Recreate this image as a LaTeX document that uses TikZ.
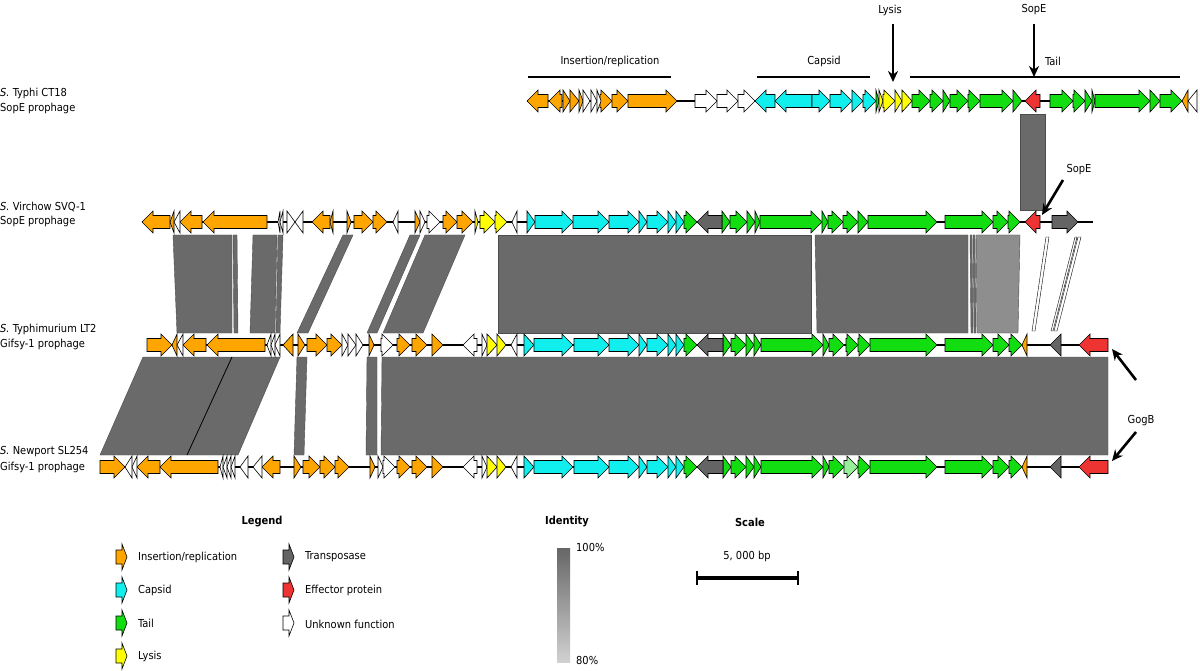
\documentclass[tikz,border=0pt]{standalone}
\usepackage{fontspec}
\setmainfont{DejaVu Sans Condensed}
\usetikzlibrary{arrows.meta}
\definecolor{orng}{HTML}{FFA500}
\definecolor{cyn}{HTML}{11EEEE}
\definecolor{grn}{HTML}{11DD11}
\definecolor{lgrn}{HTML}{99EE99}
\definecolor{ylw}{HTML}{FFFF00}
\definecolor{rd}{HTML}{EE3333}
\definecolor{tgr}{HTML}{646464}
\definecolor{shd}{HTML}{6A6A6A}
\definecolor{lshd}{HTML}{8E8E8E}
\definecolor{wht}{HTML}{FFFFFF}
\tikzset{
  genestyle/.style={draw=black,line width=0.6pt,line join=miter},
  backbone/.style={line width=2pt,black},
  blockstyle/.style={fill=shd,draw=black!70,line width=0.4pt},
  lblock/.style={fill=lshd,draw=black!70,line width=0.4pt},
  annarrow/.style={line width=2.6pt,-{Stealth[length=11pt,width=10pt]}},
  brk/.style={line width=1.2pt},
  lbl/.style={font=\fontsize{11}{13}\selectfont,inner sep=0pt},
  hdr/.style={font=\fontsize{11}{13}\selectfont\bfseries,inner sep=0pt},
}
\newcommand\gene[4]{%
  \pgfmathsetmacro\gA{#1}\pgfmathsetmacro\gB{#2}%
  \pgfmathsetmacro\gS{(#2>#1)?1:-1}%
  \pgfmathsetmacro\gH{min(11,abs(#2-#1))}%
  \pgfmathsetmacro\gC{#2-\gS*\gH}%
  \draw[genestyle,fill=#4] (\gA,#3-6.5) -- (\gC,#3-6.5) -- (\gC,#3-11) -- (\gB,#3) -- (\gC,#3+11) -- (\gC,#3+6.5) -- (\gA,#3+6.5) -- cycle;}
\newcommand\legicon[3]{%
  \draw[genestyle,fill=#3] (#1,#2-7) -- (#1+6,#2-7) -- (#1+6,#2-13) -- (#1+11,#2) -- (#1+6,#2+13) -- (#1+6,#2+7) -- (#1,#2+7) -- cycle;}
\begin{document}
\begin{tikzpicture}[x=1pt,y=-1pt]
\useasboundingbox (0,0) rectangle (1200,671);

% ---------- comparison blocks ----------
\fill[fill=shd,draw=black!70,line width=0.4pt] (1020,114) rectangle (1045,210);
% track 2 -> 3
\draw[blockstyle] (173,235) -- (232,235) -- (232,333) -- (177,333) -- cycle;
\draw[blockstyle] (233,235) -- (237,235) -- (238,333) -- (234,333) -- cycle;
\draw[blockstyle] (253,235) -- (277,235) -- (275,333) -- (250,333) -- cycle;
\draw[blockstyle] (278,235) -- (283,235) -- (280,333) -- (276,333) -- cycle;
\draw[blockstyle] (343,235) -- (353,235) -- (308,333) -- (297,333) -- cycle;
\draw[blockstyle] (410,235) -- (420,235) -- (377,333) -- (367,333) -- cycle;
\draw[blockstyle] (425,235) -- (465,235) -- (423,333) -- (383,333) -- cycle;
\draw[blockstyle] (498,235) -- (811,235) -- (811,333) -- (498,333) -- cycle;
\draw[blockstyle] (815,235) -- (968,235) -- (968,333) -- (817,333) -- cycle;
\draw[blockstyle] (970,235) -- (972,235) -- (973,333) -- (971,333) -- cycle;
\draw[blockstyle] (973,235) -- (975,235) -- (976,333) -- (974,333) -- cycle;
\draw[lblock] (976,235) -- (1020,235) -- (1018,333) -- (977,333) -- cycle;
\draw[fill=white,draw=black,line width=0.4pt] (1046,237) -- (1049,237) -- (1035,331) -- (1032,331) -- cycle;
\draw[fill=white,draw=black,line width=0.4pt] (1078,237) -- (1081,237) -- (1057,331) -- (1054,331) -- cycle;
\draw[fill=white,draw=black,line width=0.4pt] (1075,237) -- (1077,237) -- (1053,331) -- (1051,331) -- cycle;
% track 3 -> 4
\draw[blockstyle] (143,357) -- (280,357) -- (238,455) -- (100,455) -- cycle;
\draw[black,line width=0.8pt] (232,357) -- (187,455);
\draw[blockstyle] (297,357) -- (307,357) -- (304,455) -- (294,455) -- cycle;
\draw[blockstyle] (367,357) -- (377,357) -- (377,455) -- (366,455) -- cycle;
\draw[blockstyle] (382,357) -- (1108,357) -- (1108,455) -- (381,455) -- cycle;

% ---------- backbones ----------
\draw[backbone] (527,101) -- (1197,101);
\draw[backbone] (142,222) -- (1093,222);
\draw[backbone] (147,345) -- (1108,345);
\draw[backbone] (100,467) -- (1108,467);

% ---------- track 1 ----------
\foreach \a/\b in {548/527,562/549,563/570,570/579,579/583,600/612,612/628,628/677,1188/1182} \gene{\a}{\b}{101}{orng};
\foreach \a/\b in {583/590,591/597,597/601,695/717,717/738,738/755,1197/1188} \gene{\a}{\b}{101}{wht};
\foreach \a/\b in {775/755,812/775,812/830,830/852,852/863,863/876} \gene{\a}{\b}{101}{cyn};
\foreach \a/\b in {876/879,912/930,930/943,943/950,950/968,968/980,980/1013,1013/1022,1050/1073,1073/1085,1085/1092,1092/1095,1095/1150,1150/1160,1160/1182} \gene{\a}{\b}{101}{grn};
\foreach \a/\b in {879/883,883/895,895/902,902/912} \gene{\a}{\b}{101}{ylw};
\gene{1040}{1025}{101}{rd}

% ---------- track 2 ----------
\foreach \a/\b in {170/142,174/170,202/180,267/203,330/312,333/330,347/351,354/373,373/387,415/420,443/457,457/473} \gene{\a}{\b}{222}{orng};
\foreach \a/\b in {180/174,280/278,283/280,287/295,303/295,398/393,420/425,427/440,517/512} \gene{\a}{\b}{222}{wht};
\foreach \a/\b in {475/478,480/495,495/507} \gene{\a}{\b}{222}{ylw};
\foreach \a/\b in {527/535,535/573,573/609,609/639,639/647,647/668,668/676,676/684} \gene{\a}{\b}{222}{cyn};
\foreach \a/\b in {684/697,722/730,730/747,747/755,755/760,760/822,822/828,828/843,843/858,858/868,868/937,945/993,993/1008,1008/1020} \gene{\a}{\b}{222}{grn};
\gene{722}{697}{222}{tgr}
\gene{1052}{1078}{222}{tgr}
\gene{1040}{1025}{222}{rd}

% ---------- tracks 3 and 4 (shared right part) ----------
\foreach \y in {345,467}{
  \foreach \a/\b in {397/410,412/427,432/443} \gene{\a}{\b}{\y}{orng};
  \foreach \a/\b in {477/463,482/487,517/511} \gene{\a}{\b}{\y}{wht};
  \foreach \a/\b in {487/497,497/506} \gene{\a}{\b}{\y}{ylw};
  \foreach \a/\b in {524/534,534/573,574/609,609/639,639/647,647/668,668/676,676/684} \gene{\a}{\b}{\y}{cyn};
  \foreach \a/\b in {684/697,723/731,731/746,746/754,754/761,761/823,823/829,829/844,858/870,870/937,945/993,993/1009,1009/1022} \gene{\a}{\b}{\y}{grn};
  \gene{723}{697}{\y}{tgr}
  \gene{1061}{1050}{\y}{tgr}
  \gene{1027}{1022}{\y}{orng}
  \gene{1108}{1079}{\y}{rd}
}
\gene{846}{858}{345}{grn}
\gene{844}{858}{467}{lgrn}

% track 3 left
\foreach \a/\b in {147/172,177/172,206/183,265/207,293/283,298/305,307/327,327/342,369/374} \gene{\a}{\b}{345}{orng};
\foreach \a/\b in {183/177,271/267,275/271,280/275,342/348,348/356,356/363,381/393} \gene{\a}{\b}{345}{wht};

% track 4 left
\foreach \a/\b in {100/125,160/137,218/160,280/262,294/301,303/320,320/335,335/349,370/375} \gene{\a}{\b}{467}{orng};
\foreach \a/\b in {132/125,137/132,223/220,227/223,231/227,235/231,248/240,262/253,378/383,383/395} \gene{\a}{\b}{467}{wht};

% ---------- track labels ----------
\node[lbl,anchor=west] (t1a) at (0,93) {\textit{S.} Typhi CT18};
\node[lbl,anchor=west] (t1b) at (0,108) {SopE prophage};
\node[lbl,anchor=west] (t2a) at (0,207) {\textit{S.} Virchow SVQ-1};
\node[lbl,anchor=west] (t2b) at (0,221) {SopE prophage};
\node[lbl,anchor=west] (t3a) at (0,329) {\textit{S.} Typhimurium LT2};
\node[lbl,anchor=west] (t3b) at (0,344) {Gifsy-1 prophage};
\node[lbl,anchor=west] (t4a) at (0,452) {\textit{S.} Newport SL254};
\node[lbl,anchor=west] (t4b) at (0,467) {Gifsy-1 prophage};

% ---------- region annotations ----------
\node[lbl] (ins) at (610,61) {Insertion/replication};
\coordinate (insL) at (528,77); \coordinate (insR) at (671,77);
\draw[line width=1.6pt] (insL) -- (insR);
\node[lbl] (cap) at (824,61) {Capsid};
\coordinate (capL) at (757,77); \coordinate (capR) at (870,77);
\draw[line width=1.6pt] (capL) -- (capR);
\node[lbl] (tail) at (1053,61) {Tail};
\coordinate (tailL) at (910,77); \coordinate (tailR) at (1180,77);
\draw[line width=2.6pt] (tailL) -- (tailR);

\node[lbl] (lys) at (890,10) {Lysis};
\coordinate (lysT) at (893,82);
\draw[annarrow] (893,24) -- (lysT);
\node[lbl] (sop1) at (1034,10) {SopE};
\coordinate (sop1T) at (1034,77);
\draw[annarrow] (1034,24) -- (sop1T);
\node[lbl] (sop2) at (1079,170) {SopE};
\coordinate (sop2S) at (1063,180); \coordinate (sop2T) at (1042,215);
\draw[annarrow] (sop2S) -- (sop2T);
\node[lbl] (gogb) at (1141,421) {GogB};
\coordinate (g1S) at (1136,380); \coordinate (g1T) at (1112,349);
\coordinate (g2S) at (1136,432); \coordinate (g2T) at (1112,461);
\draw[annarrow] (g1S) -- (g1T);
\draw[annarrow] (g2S) -- (g2T);

% ---------- legend ----------
\node[hdr] (leg) at (262,522) {Legend};
\legicon{116}{557}{orng} \node[lbl,anchor=west] (l1) at (138,557) {Insertion/replication};
\legicon{116}{590}{cyn}  \node[lbl,anchor=west] (l2) at (138,590) {Capsid};
\legicon{116}{623}{grn}  \node[lbl,anchor=west] (l3) at (138,623) {Tail};
\legicon{116}{656}{ylw}  \node[lbl,anchor=west] (l4) at (138,656) {Lysis};
\legicon{283}{557}{tgr}  \node[lbl,anchor=west] (l5) at (305,557) {Transposase};
\legicon{283}{590}{rd}   \node[lbl,anchor=west] (l6) at (305,590) {Effector protein};
\legicon{283}{623}{wht}  \node[lbl,anchor=west] (l7) at (305,624) {Unknown function};

\node[hdr] (idt) at (567,522) {Identity};
\shade[top color=black!60,bottom color=black!18] (557,548) rectangle (570,662);
\node[lbl,anchor=west] (p100) at (576,547) {100\%};
\node[lbl,anchor=west] (p80) at (576,660) {80\%};

\node[hdr] (scl) at (750,522) {Scale};
\node[lbl] (bp) at (747,556) {5, 000 bp};
\coordinate (sbL) at (697,578); \coordinate (sbR) at (798,578);
\draw[line width=3.6pt] (sbL) -- (sbR);
\draw[line width=1.8pt] (697,571) -- (697,585);
\draw[line width=1.8pt] (798,571) -- (798,585);
\end{tikzpicture}
\end{document}
